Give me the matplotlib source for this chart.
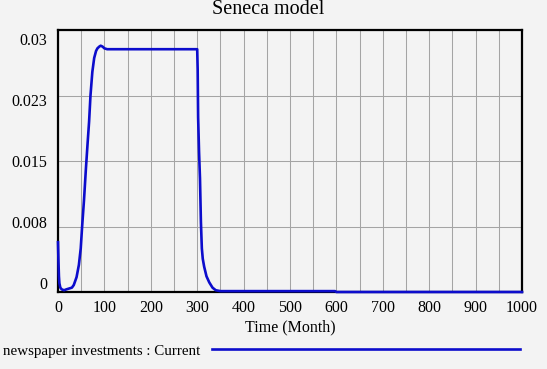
import matplotlib.pyplot as plt
from matplotlib.transforms import offset_copy

# Data (time in months, value of newspaper investments)
time = [0, 1, 2, 3, 5, 8, 13, 18, 24, 30, 34, 40, 45, 49, 52, 56, 60, 64, 67,
        70, 74, 78, 82, 85, 89, 92, 96, 100, 106, 150, 200, 250, 300,
        301, 302, 304, 306, 308, 310, 312, 315, 320, 326, 333, 340, 350,
        400, 500, 597, 600, 700, 800, 900, 1000]
investments = [0.0057, 0.0035, 0.0018, 0.0010, 0.0005, 0.0003, 0.0002, 0.0003,
               0.0004, 0.0005, 0.0008, 0.0017, 0.0031, 0.0050, 0.0075, 0.0105,
               0.0140, 0.0172, 0.0195, 0.0225, 0.0252, 0.0268, 0.0276, 0.0279,
               0.0281, 0.0282, 0.0281, 0.0279, 0.0278, 0.0278, 0.0278, 0.0278,
               0.0278, 0.0255, 0.0200, 0.0160, 0.0130, 0.0080, 0.0050, 0.0038,
               0.0029, 0.0018, 0.0011, 0.0005, 0.0002, 0.0001, 0.0001, 0.0001,
               0.0001, 0.0, 0.0, 0.0, 0.0, 0.0]

x_ticks = [0, 100, 200, 300, 400, 500, 600, 700, 800, 900, 1000]
y_ticks = [0, 0.0075, 0.015, 0.0225, 0.03]
y_labels = ["0", "0.008", "0.015", "0.023", "0.03"]

plt.rcParams['font.family'] = ['Liberation Serif', 'DejaVu Serif']
bg = '#f3f3f3'
blue = '#0c0ccc'

fig = plt.figure(figsize=(5.47, 3.69), dpi=100, facecolor=bg)
ax = fig.add_axes([58 / 547, 1 - 292 / 369, 464 / 547, 262 / 369], facecolor=bg)

ax.plot(time, investments, color=blue, lw=1.9, zorder=5, clip_on=False,
        solid_joinstyle='round')

ax.set_xlim(0, 1000)
ax.set_ylim(0, 0.03)
ax.set_xticks(x_ticks)
ax.set_xticks(range(50, 1000, 100), minor=True)
ax.set_yticks(y_ticks)
ax.set_yticklabels(y_labels)
ax.grid(True, which='both', axis='x', color='#a4a4a4', lw=0.75)
ax.grid(True, axis='y', color='#a4a4a4', lw=0.75)
ax.tick_params(which='both', length=0)
ax.tick_params(axis='x', labelsize=11.5, pad=6)
ax.tick_params(axis='y', labelsize=11.5, pad=8)
for s in ax.spines.values():
    s.set_color('black')
    s.set_linewidth(1.6)

# Vensim style: y labels spread slightly inside the gridline range
shifts = [9, 4.5, 0, -4.5, -9]
for lab, dy in zip(ax.get_yticklabels(), shifts):
    lab.set_transform(offset_copy(lab.get_transform(), fig=fig, x=0, y=dy, units='dots'))

ax.set_xlabel("Time (Month)", fontsize=11.5, labelpad=2)

fig.text(268 / 547, 1 - 14 / 369, "Seneca model", fontsize=14.5,
         ha='center', va='baseline')

# legend row
fig.text(3 / 547, 1 - 355 / 369, "newspaper investments : Current", fontsize=10.8,
         ha='left', va='baseline')
fig.add_artist(plt.Line2D([212 / 547, 520 / 547], [1 - 349 / 369, 1 - 349 / 369],
                          color=blue, lw=1.9))

fig.savefig("out.png", dpi=100, facecolor=bg)
